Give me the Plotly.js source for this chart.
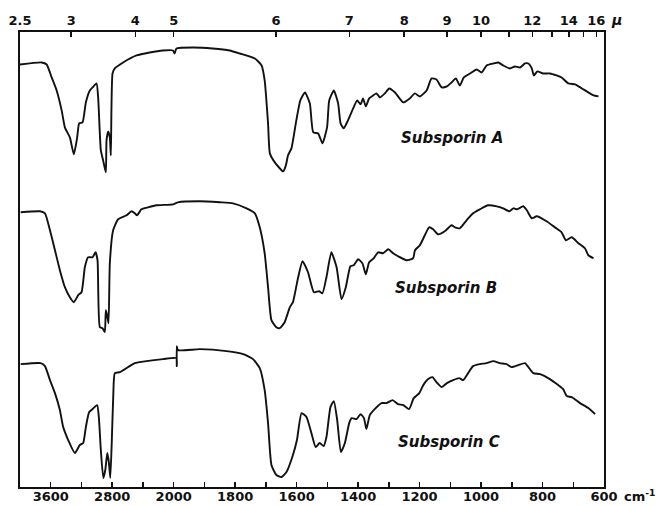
<!DOCTYPE html>
<html>
<head>
<meta charset="utf-8">
<script src="https://cdn.plot.ly/plotly-3.0.1.min.js"></script>
<style>html,body{margin:0;padding:0;background:#fff;}#chart{width:665px;height:505px;}</style>
</head>
<body>
<div id="chart"></div>
<script>
// Wavenumbers (cm-1) and traced curve heights (arbitrary offset transmittance units)
const wnA = [4000,3718,3653,3588,3523,3458,3416,3351,3299,3256,3230,3186,3143,3091,3056,3004,2983,2948,2918,2883,2874,2853,2831,2818,2796,2766,2658,2484,2312,2139,2009,1997,1991,1937,1873,1818,1785,1736,1714,1704,1693,1687,1671,1644,1635,1628,1617,1601,1588,1573,1557,1546,1530,1516,1501,1494,1479,1465,1457,1447,1433,1416,1403,1392,1384,1375,1364,1351,1340,1329,1313,1299,1280,1253,1232,1215,1199,1177,1161,1145,1128,1111,1096,1082,1069,1056,1036,1014,998,982,960,944,928,906,890,873,857,846,835,828,817,798,776,754,738,716,694,672,651,634,618];
const tA  = [423,425,423,410,397,377,360,350,333,350,364,365,385,397,400,404,390,337,327,315,347,356,350,332,414,419,425,432,435,437,437,434,439,440,439,437,434,429,422,407,364,334,325,316,322,332,339,367,387,395,384,355,354,344,360,387,397,384,364,359,367,379,387,383,389,381,389,392,394,390,394,399,395,385,389,394,391,397,409,408,400,401,405,409,402,410,414,418,415,422,424,425,422,419,421,420,424,424,419,412,416,414,414,412,410,404,403,399,395,392,391];

const wnB = [3991,3740,3675,3610,3545,3481,3416,3351,3299,3243,3199,3156,3113,3056,3017,2991,2961,2926,2896,2883,2866,2848,2831,2788,2723,2614,2549,2506,2477,2420,2334,2225,2009,1986,1915,1850,1807,1763,1736,1720,1704,1693,1682,1666,1655,1639,1622,1612,1595,1581,1563,1544,1527,1516,1503,1487,1470,1454,1440,1425,1414,1400,1386,1375,1364,1349,1335,1319,1302,1286,1270,1242,1221,1215,1199,1183,1169,1156,1140,1118,1096,1085,1069,1047,1026,1004,977,949,928,908,895,882,863,851,835,819,787,760,738,724,705,683,662,651,634];
const tB  = [275,276,274,257,237,217,200,190,185,192,195,220,230,230,235,227,160,159,155,177,172,164,224,257,268,272,276,274,272,278,280,282,283,285,286,285,284,279,274,260,234,200,167,160,159,165,180,185,210,226,215,195,196,194,210,235,220,188,200,221,222,228,224,213,225,229,235,234,238,234,231,227,229,237,242,252,260,258,253,256,262,260,259,267,274,278,282,281,279,276,279,278,281,277,269,271,266,260,255,247,250,244,239,232,229];

const wnC = [3991,3731,3675,3610,3545,3481,3438,3373,3286,3221,3178,3143,3100,3056,2996,2974,2948,2916,2890,2864,2844,2825,2805,2786,2766,2701,2506,2355,2139,1991,1990,1990,1986,1915,1828,1774,1742,1720,1704,1693,1682,1666,1649,1633,1612,1599,1584,1568,1552,1538,1525,1512,1503,1490,1479,1468,1456,1443,1429,1421,1405,1392,1381,1373,1362,1346,1324,1308,1288,1270,1253,1234,1219,1201,1188,1172,1158,1145,1128,1111,1091,1071,1058,1042,1026,1004,982,960,939,917,901,879,857,846,830,808,776,749,733,721,705,678,651,629];
const tC  = [123,124,121,107,94,77,60,47,34,42,44,60,75,78,82,70,37,9,17,34,25,9,47,92,114,115,124,126,128,129,121,141,137,138,136,133,128,119,97,64,22,12,10,15,32,47,74,70,54,40,44,41,50,80,86,67,35,44,64,69,68,73,69,58,72,78,84,84,87,83,82,78,89,94,102,108,110,105,100,104,107,109,107,114,121,123,124,126,124,123,120,122,124,120,114,113,108,102,98,91,90,84,79,73];

const bottomTickWn = [3600,3200,2800,2400,2000,1900,1800,1700,1600,1500,1400,1300,1200,1100,1000,900,800,700,600];
const bottomTickText = ["3600","","2800","","2000","","1800","","1600","","1400","","1200","","1000","","800","","600"];
const micronTicks = [2.5,3,4,5,6,7,8,9,10,11,12,13,14,15,16];
const micronText = ["2.5","3","4","5","6","7","8","9","10","","12","","14","","16"];
const sampleNames = ["Subsporin A","Subsporin B","Subsporin C"];

// Chart paper: 4000-2000 cm-1 compressed 4x relative to 2000-600 cm-1
function pos(wn){ return wn >= 2000 ? (4000 - wn) / 4 : 500 + (2000 - wn); }

const lineStyle = {color:'#111', width:1.9, shape:'spline', smoothing:0.5};
const traces = [[wnA,tA],[wnB,tB],[wnC,tC]].map(([w,t]) => ({
  x: w.map(pos), y: t, type:'scatter', mode:'lines', line: lineStyle,
  hoverinfo:'skip', showlegend:false, xaxis:'x', yaxis:'y'
}));
// dummy trace to activate top axis
traces.push({x:[pos(4000),pos(600)], y:[null,null], xaxis:'x2', yaxis:'y', mode:'lines', showlegend:false, hoverinfo:'skip'});

const tickFont = {family:'DejaVu Sans', size:13, color:'#111', weight:'bold'};
const nameFont = {family:'DejaVu Sans', size:15, color:'#111', style:'italic', weight:'bold'};
const layout = {
  width:665, height:505,
  margin:{l:20, r:61, t:32, b:18},
  paper_bgcolor:'#fff', plot_bgcolor:'#fff',
  showlegend:false,
  xaxis:{range:[0,1900], tickmode:'array', tickvals:bottomTickWn.map(pos), ticktext:bottomTickText,
         ticks:'inside', ticklen:5, tickwidth:1.5, tickcolor:'#111', showgrid:false, zeroline:false,
         showline:true, linecolor:'#111', linewidth:2, tickfont:tickFont, fixedrange:true},
  xaxis2:{range:[0,1900], overlaying:'x', side:'top', tickmode:'array',
          tickvals:micronTicks.map(m => pos(10000/m)), ticktext:micronText,
          ticks:'inside', ticklen:5, tickwidth:1.5, tickcolor:'#111', showgrid:false, zeroline:false,
          showline:true, linecolor:'#111', linewidth:2, tickfont:tickFont, fixedrange:true},
  yaxis:{range:[0,455.5], showticklabels:false, ticks:'', showgrid:false, zeroline:false,
         showline:true, mirror:true, linecolor:'#111', linewidth:2, fixedrange:true},
  annotations:[
    {text:sampleNames[0], xref:'paper', yref:'paper', x:0.74, y:0.768, xanchor:'center', yanchor:'middle', showarrow:false, font:nameFont},
    {text:sampleNames[1], xref:'paper', yref:'paper', x:0.729, y:0.437, xanchor:'center', yanchor:'middle', showarrow:false, font:nameFont},
    {text:sampleNames[2], xref:'paper', yref:'paper', x:0.735, y:0.099, xanchor:'center', yanchor:'middle', showarrow:false, font:nameFont},
    {text:'cm<sup>-1</sup>', xref:'paper', yref:'paper', x:1.031, y:-0.02, xanchor:'left', yanchor:'middle',
     showarrow:false, font:tickFont},
    {text:'μ', xref:'paper', yref:'paper', x:1.008, y:1.027, xanchor:'left', yanchor:'middle',
     showarrow:false, font:{family:'DejaVu Sans', size:14, color:'#111', style:'italic', weight:'bold'}}
  ]
};
Plotly.newPlot('chart', traces, layout, {staticPlot:true, displayModeBar:false}).then(() => {
  // pull bottom tick labels slightly toward the axis so they stay inside the page
  document.querySelectorAll('.xtick text').forEach(t => {
    const y = parseFloat(t.getAttribute('y') || 0);
    t.setAttribute('y', y - 4);
  });
});
</script>
</body>
</html>
